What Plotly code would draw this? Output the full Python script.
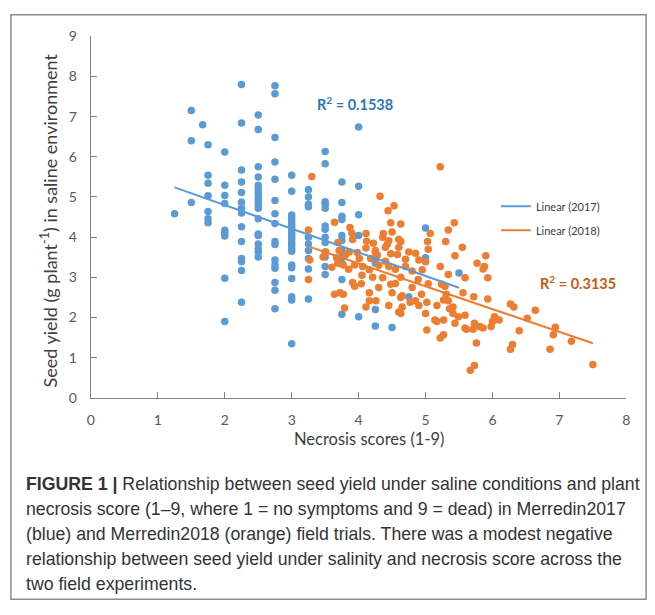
import plotly.graph_objects as go

# ---------------- data ----------------
blue_scores = [1.25, 1.5, 1.67, 1.75, 2.0, 2.25, 2.5, 2.75, 3.0, 3.25, 3.5, 3.75, 4.0, 4.25, 4.5, 4.75, 5.0, 5.5]
blue_yields = [
    [4.58],
    [7.15, 6.40, 4.86],
    [6.80],
    [6.30, 5.54, 5.34, 5.03, 4.64, 4.46, 4.36],
    [6.12, 5.29, 5.04, 4.84, 4.17, 4.10, 4.03, 2.98, 1.90],
    [7.80, 6.84, 5.67, 5.37, 5.11, 4.87, 4.72, 4.60, 4.26, 3.89, 3.47, 3.39, 3.17, 2.38],
    [7.04, 6.68, 5.75, 5.50, 5.29, 5.21, 5.12, 5.03, 4.95, 4.88, 4.80, 4.72, 4.46, 4.08, 4.04, 3.83, 3.71, 3.63, 3.51],
    [7.77, 7.57, 6.48, 5.87, 5.44, 4.91, 4.58, 4.34, 3.89, 3.82, 3.43, 3.31, 3.23, 2.87, 2.68, 2.22],
    [5.54, 5.14, 4.55, 4.48, 4.40, 4.32, 4.25, 4.17, 4.10, 4.02, 3.95, 3.87, 3.80, 3.72, 3.65, 3.31, 3.24, 2.97, 2.52, 2.44, 1.35],
    [5.18, 5.00, 4.82, 4.76, 4.00, 3.83, 3.67, 3.47, 3.21, 2.46],
    [6.13, 5.83, 4.88, 4.82, 4.72, 4.28, 4.20, 4.00, 3.87, 3.63, 3.51, 3.27, 3.07],
    [5.37, 4.86, 4.52, 4.44, 4.04, 3.92, 3.67, 3.50, 3.35, 2.95, 2.08],
    [6.74, 5.27, 4.56, 4.04, 2.02],
    [3.47, 3.35, 2.20, 1.79],
    [1.75],
    [2.52],
    [4.23, 3.49],
    [3.11],
]

orange_x = [5.22, 4.32, 4.53, 4.44, 3.64, 4.48, 4.63, 5.43, 5.34, 3.87, 3.90, 4.11, 4.37, 4.50, 5.07,
            3.91, 4.45, 4.63, 5.03, 5.30, 3.69, 4.40, 5.55, 4.11, 3.71, 5.04, 4.25, 4.75, 3.86, 4.48,
            4.58, 5.44, 5.90, 3.67, 4.01, 4.18, 4.40, 4.90, 5.00, 5.77, 3.77, 3.94, 4.06, 4.45, 4.70,
            5.22, 5.86, 4.16, 4.80, 4.95, 5.34, 5.93, 5.59, 4.21, 4.36, 4.63, 4.89, 3.91, 4.04, 4.48,
            5.04, 5.24, 5.56, 3.64, 3.77, 4.16, 4.50, 4.63, 4.94, 5.31, 5.72, 4.16, 4.77, 5.02, 5.27,
            5.93, 6.27, 6.32, 4.45, 4.65, 4.90, 5.17, 5.41, 3.79, 4.11, 4.63, 5.00, 5.41, 5.59, 6.03,
            5.17, 5.44, 5.73, 5.02, 5.59, 5.86, 5.98, 6.40, 5.27, 5.22, 5.76, 6.30, 6.27, 5.73, 5.67,
            3.30, 3.25, 4.36, 4.25, 4.43, 4.60, 4.60, 3.27, 3.25, 3.72, 3.47, 3.69, 3.94, 4.26, 4.60,
            4.65, 4.85, 5.14, 5.29, 6.64, 6.52, 6.10, 6.00, 5.81, 5.71, 5.61, 6.94, 6.91, 7.18, 6.86,
            7.50, 5.36, 5.49, 5.27, 5.34, 5.88, 3.51, 3.80, 3.98, 4.22, 4.30, 4.55, 4.70, 4.85, 3.85,
            4.05, 4.30, 4.55, 4.80, 4.28, 3.60, 4.12]
orange_y = [5.75, 5.02, 4.78, 4.66, 4.37, 4.36, 4.33, 4.36, 4.18, 4.24, 4.10, 4.09, 4.09, 4.13, 4.09,
            3.94, 3.91, 3.89, 3.89, 3.89, 3.87, 3.75, 3.75, 3.73, 3.67, 3.70, 3.63, 3.63, 3.63, 3.59,
            3.57, 3.54, 3.54, 3.49, 3.47, 3.47, 3.40, 3.43, 3.39, 3.35, 3.31, 3.31, 3.27, 3.27, 3.27,
            3.27, 3.21, 3.19, 3.16, 3.19, 3.07, 2.99, 2.99, 3.00, 2.99, 3.00, 2.95, 2.87, 2.84, 2.83,
            2.84, 2.83, 2.62, 2.58, 2.58, 2.62, 2.62, 2.50, 2.58, 2.58, 2.52, 2.42, 2.38, 2.38, 2.44,
            2.46, 2.34, 2.26, 2.30, 2.26, 2.30, 2.30, 2.26, 2.24, 2.26, 2.10, 2.10, 2.10, 2.06, 2.02,
            1.90, 1.86, 1.86, 1.69, 1.74, 1.74, 1.78, 1.67, 1.57, 1.49, 1.37, 1.33, 1.21, 0.81, 0.69,
            5.51, 4.18, 4.00, 3.67, 3.83, 3.95, 3.75, 3.43, 2.95, 2.62, 3.51, 3.35, 2.78, 2.42, 2.14,
            2.54, 2.42, 1.94, 2.78, 2.18, 1.98, 1.94, 1.90, 1.78, 1.71, 1.71, 1.76, 1.57, 1.41, 1.21,
            0.83, 2.22, 2.02, 1.94, 2.42, 3.27, 3.63, 3.55, 3.62, 3.85, 3.30, 3.20, 3.45, 3.60, 3.20,
            3.05, 2.75, 2.85, 2.75, 3.55, 3.25, 3.90]

trend2017_x = [1.25, 5.5]
trend2017_y = [5.24, 2.74]
trend2018_x = [3.25, 7.5]
trend2018_y = [3.77, 1.36]

r2_2017 = "R<sup>2</sup> = 0.1538"
r2_2018 = "R<sup>2</sup> = 0.3135"

x_ticks = [0, 1, 2, 3, 4, 5, 6, 7, 8]
y_ticks = [0, 1, 2, 3, 4, 5, 6, 7, 8, 9]

x_title = "Necrosis scores (1-9)"
y_title = "Seed yield (g plant<sup>-1</sup>) in saline environment"

caption_lines = [
    "<b>FIGURE 1 |</b> Relationship between seed yield under saline conditions and plant",
    "necrosis score (1\u20139, where 1 = no symptoms and 9 = dead) in Merredin2017",
    "(blue) and Merredin2018 (orange) field trials. There was a modest negative",
    "relationship between seed yield under salinity and necrosis score across the",
    "two field experiments.",
]

# ---------------- figure ----------------
W, H = 655, 615
BLUE = "#5B9BD5"
ORANGE = "#ED7D31"
AX = "#808080"
FONT = "Lato"

blue_x = [s for s, ys in zip(blue_scores, blue_yields) for _ in ys]
blue_y = [y for ys in blue_yields for y in ys]

def px(xp):
    return xp / W

def py(yp):
    return 1 - yp / H

fig = go.Figure()
fig.add_trace(go.Scatter(x=blue_x, y=blue_y, mode="markers", showlegend=False,
                         marker=dict(color=BLUE, size=7.5, line=dict(width=0))))
fig.add_trace(go.Scatter(x=orange_x, y=orange_y, mode="markers", showlegend=False,
                         marker=dict(color=ORANGE, size=7.5, line=dict(width=0))))
fig.add_trace(go.Scatter(x=trend2017_x, y=trend2017_y, mode="lines", name="Linear (2017)",
                         legendgroup="a", line=dict(color=BLUE, width=2)))
fig.add_trace(go.Scatter(x=trend2018_x, y=trend2018_y, mode="lines", name="Linear (2018)",
                         legendgroup="b", line=dict(color=ORANGE, width=2)))

axis_common = dict(showline=True, linecolor=AX, linewidth=1.3, ticks="inside", ticklen=6,
                   tickcolor=AX, tickwidth=1.3, showgrid=False, zeroline=False,
                   tickfont=dict(family=FONT, size=14, color="#595959"))

fig.update_layout(
    width=W, height=H, margin=dict(l=0, r=0, t=0, b=0),
    paper_bgcolor="white", plot_bgcolor="white",
    xaxis=dict(domain=[px(88), px(630)], range=[0, 8], tickvals=x_ticks,
               ticklabelstandoff=9, **axis_common),
    yaxis=dict(domain=[py(400), py(28)], range=[0, 9], tickvals=y_ticks,
               ticklabelstandoff=10, **axis_common),
    legend=dict(x=px(498), y=py(188), xanchor="left", yanchor="top",
                font=dict(family=FONT, size=11, color="#404040"),
                bgcolor="rgba(0,0,0,0)", tracegroupgap=5, traceorder="grouped"),
    font=dict(family=FONT),
)

def ann(text, x, y, size, color, weight="normal", angle=0, family=FONT, xanchor="center"):
    return dict(text=text, x=px(x), y=py(y), xref="paper", yref="paper", showarrow=False,
                xanchor=xanchor, yanchor="middle", textangle=angle,
                font=dict(family=family, size=size, color=color, weight=weight))

annotations = [
    ann(r2_2017, 355, 97, 14.5, "#2E75B6", "bold"),
    ann(r2_2018, 581, 281, 14.5, "#C55A11", "bold"),
    ann(x_title, 370, 442, 16.5, "#404040"),
    ann(y_title, 46, 217, 18, "#404040", angle=-90),
]
cap_y0, cap_dy = 489, 25.5
for i, line in enumerate(caption_lines):
    annotations.append(ann(line, 20, cap_y0 + i * cap_dy, 17.7, "#333333",
                           family="Liberation Sans", xanchor="left"))
fig.update_layout(annotations=annotations)

fig.add_shape(type="rect", xref="paper", yref="paper", x0=px(7), x1=px(650), y0=py(607), y1=py(6),
              line=dict(color="#8c8c8c", width=1.5), fillcolor="rgba(0,0,0,0)")

fig.write_html("out.html", config={"displayModeBar": False},
               post_script="document.body.style.margin='0';document.body.style.overflow='hidden';")
